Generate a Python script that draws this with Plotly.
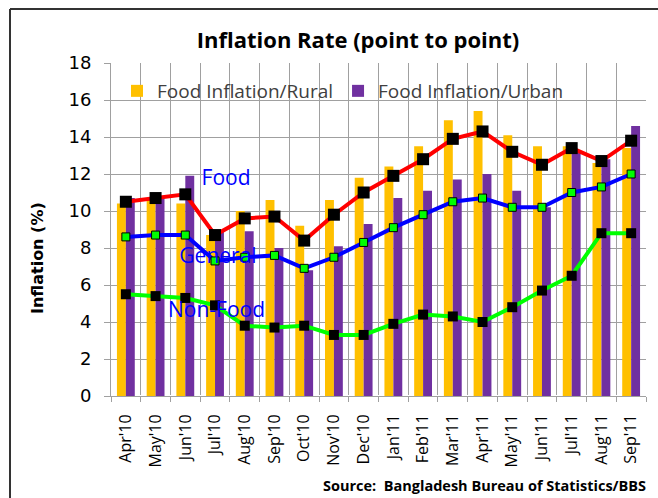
import plotly.graph_objects as go

months = ["Apr'10", "May'10", "Jun'10", "Jul'10", "Aug'10", "Sep'10", "Oct'10", "Nov'10", "Dec'10",
          "Jan'11", "Feb'11", "Mar'11", "Apr'11", "May'11", "Jun'11", "Jul'11", "Aug'11", "Sep'11"]
food_rural = [10.4, 10.6, 10.4, 8.7, 10.0, 10.6, 9.2, 10.6, 11.8, 12.4, 13.5, 14.9, 15.4, 14.1, 13.5, 13.5, 12.6, 13.4]
food_urban = [10.7, 10.7, 11.9, 8.9, 8.9, 8.0, 6.8, 8.1, 9.3, 10.7, 11.1, 11.7, 12.0, 11.1, 10.2, 13.3, 12.8, 14.6]
food = [10.5, 10.7, 10.9, 8.7, 9.6, 9.7, 8.4, 9.8, 11.0, 11.9, 12.8, 13.9, 14.3, 13.2, 12.5, 13.4, 12.7, 13.8]
general = [8.6, 8.7, 8.7, 7.3, 7.5, 7.6, 6.9, 7.5, 8.3, 9.1, 9.8, 10.5, 10.7, 10.2, 10.2, 11.0, 11.3, 12.0]
non_food = [5.5, 5.4, 5.3, 4.9, 3.8, 3.7, 3.8, 3.3, 3.3, 3.9, 4.4, 4.3, 4.0, 4.8, 5.7, 6.5, 8.8, 8.8]

series_labels = ["Food", "General", "Non-Food"]

SANS = "Open Sans"
fig = go.Figure()
fig.add_trace(go.Bar(x=months, y=food_rural, name="Food Inflation/Rural", marker=dict(color="#FFC000", line=dict(width=0))))
fig.add_trace(go.Bar(x=months, y=food_urban, name="Food Inflation/Urban", marker=dict(color="#7030A0", line=dict(width=0))))

# series labels (drawn beneath the lines), placed on an overlaid linear axis
fig.add_trace(go.Scatter(x=[3.37, 3.1, 3.05], y=[11.7, 7.45, 4.55], xaxis="x2", mode="text",
                         text=series_labels, showlegend=False, hoverinfo="skip",
                         textfont=dict(family=SANS, size=21, color="#0000FF")))

fig.add_trace(go.Scatter(x=months, y=food, mode="lines+markers", showlegend=False,
                         line=dict(color="#FF0000", width=4),
                         marker=dict(symbol="square", size=12, color="#000000")))
fig.add_trace(go.Scatter(x=months, y=non_food, mode="lines+markers", showlegend=False,
                         line=dict(color="#00FF00", width=4),
                         marker=dict(symbol="square", size=10, color="#000000")))
fig.add_trace(go.Scatter(x=months, y=general, mode="lines+markers", showlegend=False,
                         line=dict(color="#0000FF", width=4),
                         marker=dict(symbol="square", size=8, color="#00FF00", line=dict(color="#000000", width=1))))

W, H = 658, 498
L, R, T, B = 111, 12, 63, 102
pw, ph = W - L - R, H - T - B
def px(x): return (x - L) / pw
def py(y): return (H - B - y) / ph

fig.update_layout(
    width=W, height=H, margin=dict(l=L, r=R, t=T, b=B, autoexpand=False),
    paper_bgcolor="white", plot_bgcolor="white",
    barmode="group", bargap=0.4, bargroupgap=0,
    title=dict(text="<b>Inflation Rate (point to point)</b>", x=px(358), xref="paper", xanchor="center",
               y=1 - 40 / H, yanchor="middle", font=dict(family=SANS, size=22, color="#000000")),
    legend=dict(orientation="h", x=px(117), y=py(72), xanchor="left", yanchor="top",
                bgcolor="rgba(0,0,0,0)", font=dict(family=SANS, size=19, color="#404040"),
                itemwidth=30, tracegroupgap=0),
    showlegend=True,
    xaxis=dict(type="category", tickson="boundaries", ticks="outside", ticklen=5, tickcolor="#A0A0A0",
               showgrid=True, gridcolor="#A0A0A0", gridwidth=1, showline=True, linecolor="#A0A0A0",
               tickangle=-90, tickfont=dict(family=SANS, size=16, color="#000000"),
               range=[-0.5, 17.5], ticklabelstandoff=11),
    xaxis2=dict(overlaying="x", range=[-0.5, 17.5], visible=False),
    yaxis=dict(range=[0, 18], dtick=2, ticks="outside", ticklen=6, tickcolor="#A0A0A0",
               showgrid=True, gridcolor="#A0A0A0", gridwidth=1, showline=True, linecolor="#A0A0A0",
               tickfont=dict(family="DejaVu Sans", size=18, color="#000000"), ticklabelstandoff=9),
    annotations=[
        dict(text="<b>Inflation (%)</b>", xref="paper", yref="paper", x=px(37), y=py(258),
             xanchor="center", yanchor="middle", textangle=-90, showarrow=False,
             font=dict(family="DejaVu Sans", size=16, color="#000000")),
        dict(text="<b>Source:  Bangladesh Bureau of Statistics/BBS</b>", xref="paper", yref="paper",
             x=px(648), y=py(486), xanchor="right", yanchor="middle", showarrow=False,
             font=dict(family=SANS, size=14.5, color="#000000")),
    ],
    shapes=[
        dict(type="line", xref="paper", yref="paper", x0=px(10), x1=px(10), y0=py(9), y1=py(520),
             line=dict(color="#333333", width=2)),
        dict(type="line", xref="paper", yref="paper", x0=px(10), x1=px(700), y0=py(9), y1=py(9),
             line=dict(color="#333333", width=2)),
    ],
)

fig.write_html("out.html", config={"displayModeBar": False},
               post_script="document.body.style.margin='0';document.body.style.overflow='hidden';")
